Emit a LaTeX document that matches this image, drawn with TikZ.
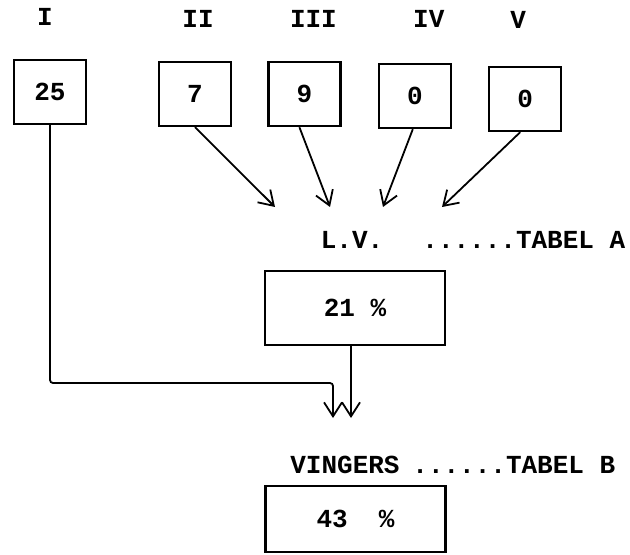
\documentclass[tikz,border=0pt]{standalone}
\usepackage{fontspec}
\setmonofont{Liberation Mono}
\usepackage{tikz}
\usetikzlibrary{positioning}
\usetikzlibrary{arrows.meta}
\newcommand{\typed}{\ttfamily\bfseries\fontsize{13}{15}\selectfont}
\tikzset{
score_box/.style={rectangle, draw, line width=1.2pt, minimum width=36pt, minimum height=32pt, font=\typed},
result_box/.style={rectangle, draw, line width=1.2pt, minimum width=90pt, minimum height=37pt, font=\typed},
roman/.style={font=\typed},
typed_label/.style={font=\typed, inner sep=1pt},
flow/.style={line width=0.9pt, -{Straight Barb[length=7pt,width=9pt]}}
}

\begin{document}
\begin{tikzpicture}[x=0.5pt, y=-0.5pt]
    \useasboundingbox (0,0) rectangle (630,555);
    % the five scores
    \node[score_box] (box_1) at (50,92) {25};
    \node[score_box] (box_2) at (195,94) {7};
    \node[score_box] (box_3) [right=17.5pt of box_2] {9};
    \node[score_box, yshift=-1pt] (box_4) [right=18pt of box_3] {0};
    \node[score_box, yshift=-1.5pt] (box_5) [right=18pt of box_4] {0};
    \node[roman] (num_1) [above=13pt of box_1, xshift=-2.5pt] {I};
    \node[roman] (num_2) [above=13pt of box_2, xshift=1.5pt] {II};
    \node[roman] (num_3) [above=13pt of box_3, xshift=4.5pt] {III};
    \node[roman] (num_4) [above=14pt of box_4, xshift=7pt] {IV};
    \node[roman] (num_5) [above=15pt of box_5, xshift=-3.5pt] {V};
    % L.V. and table A
    \node[typed_label] (lv) at (352,240) {L.V.};
    \node[typed_label, anchor=west] (tabel_a) at (420,240) {......TABEL A};
    \node[result_box] (res_a) at (355,308) {21 \%};
    \coordinate (lv_in_2) at (275,207);
    \coordinate (lv_in_3) at (330,207);
    \coordinate (lv_in_4) at (383,207);
    \coordinate (lv_in_5) at (442,207);
    \draw[flow] (box_2.south) -- (lv_in_2);
    \draw[flow] ([xshift=-2.5pt]box_3.south) -- (lv_in_3);
    \draw[flow] ([xshift=-1pt]box_4.south) -- (lv_in_4);
    \draw[flow] ([xshift=-2.5pt]box_5.south) -- (lv_in_5);
    % vingers and table B
    \node[typed_label] (vingers) at (345,465) {VINGERS};
    \node[typed_label, anchor=west] (tabel_b) at (410,465) {......TABEL B};
    \node[result_box, minimum height=33pt] (res_b) at (355.5,519) {43\ \ \%};
    \coordinate (vi_in_1) at (333,418);
    \coordinate (vi_in_2) at (351,418);
    \draw[flow, rounded corners=1.5pt] (box_1.south) |- (333,383) -- (vi_in_1);
    \draw[flow] (res_a.south -| vi_in_2) -- (vi_in_2);
\end{tikzpicture}
\end{document}
